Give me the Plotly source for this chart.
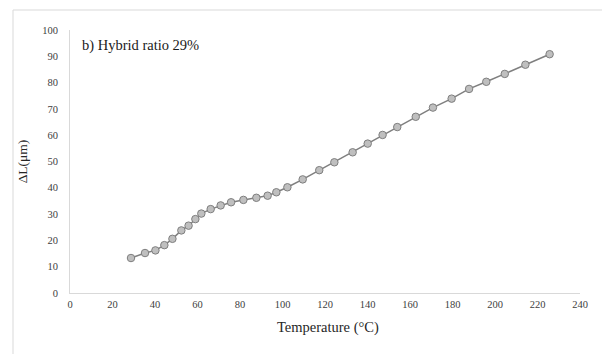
import plotly.graph_objects as go

temperature = [28.7, 35.3, 40.2, 44.4, 48.2, 52.4, 55.8, 59.0, 61.8, 66.2, 70.9, 75.8,
               81.6, 87.7, 93.0, 97.1, 102.3, 109.5, 117.3, 124.4, 133.0, 140.1, 147.1,
               154.0, 162.7, 170.8, 179.6, 187.8, 195.9, 204.6, 214.3, 225.7]
delta_l = [13.3, 15.2, 16.2, 18.2, 20.6, 23.8, 25.6, 28.1, 30.2, 31.9, 33.3, 34.5,
           35.4, 36.2, 37.0, 38.3, 40.2, 43.2, 46.7, 49.7, 53.5, 56.8, 60.1,
           63.1, 67.0, 70.5, 73.9, 77.6, 80.3, 83.3, 86.8, 90.8]

x_ticks = list(range(0, 241, 20))
y_ticks = list(range(0, 101, 10))

x_title = "Temperature (°C)"
y_title = "ΔL(μm)"
panel_label = "b) Hybrid ratio 29%"

W, H = 602, 354
L, R, T, B = 70, 22, 30, 61
pw, ph = W - L - R, H - T - B

def px(xp):
    return (xp - L) / pw

def py(yp):
    return (H - B - yp) / ph

serif = "'Liberation Serif', 'DejaVu Serif', serif"

fig = go.Figure()
fig.add_trace(go.Scatter(
    x=temperature, y=delta_l, mode="lines+markers",
    line=dict(color="#7f7f7f", width=1.5),
    marker=dict(size=7.5, color="#bfbfbf", line=dict(color="#7f7f7f", width=1)),
    showlegend=False,
))

fig.update_layout(
    width=W, height=H,
    margin=dict(l=L, r=R, t=T, b=B),
    paper_bgcolor="white", plot_bgcolor="white",
    font=dict(family=serif, color="#404040"),
    xaxis=dict(range=[0, 240], tickvals=x_ticks, showgrid=False, zeroline=False,
               showline=True, linecolor="#d9d9d9", linewidth=1, ticks="",
               ticklabelstandoff=1,
               tickfont=dict(family=serif, size=10.5, color="#404040")),
    yaxis=dict(range=[0, 100], tickvals=y_ticks, showgrid=False, zeroline=False,
               showline=True, linecolor="#d9d9d9", linewidth=1, ticks="",
               ticklabelstandoff=9,
               tickfont=dict(family=serif, size=10.5, color="#404040"),
               title=dict(text=y_title, font=dict(family=serif, size=13.5, color="#262626"), standoff=11)),
    annotations=[
        dict(text=panel_label, xref="paper", yref="paper",
             x=px(80), y=py(45), xanchor="left", yanchor="middle",
             showarrow=False, font=dict(size=14.5, color="#1a1a1a", family=serif)),
        dict(text=x_title, xref="paper", yref="paper",
             x=px(328), y=py(327), xanchor="center", yanchor="middle",
             showarrow=False, font=dict(size=14.5, color="#262626", family=serif)),
    ],
    shapes=[
        dict(type="line", xref="paper", yref="paper", x0=px(13), x1=px(13), y0=py(10), y1=py(354),
             line=dict(color="#d9d9d9", width=1)),
        dict(type="line", xref="paper", yref="paper", x0=px(13), x1=px(602), y0=py(10), y1=py(10),
             line=dict(color="#d9d9d9", width=1)),
    ],
)

fig.write_html("out.html")
